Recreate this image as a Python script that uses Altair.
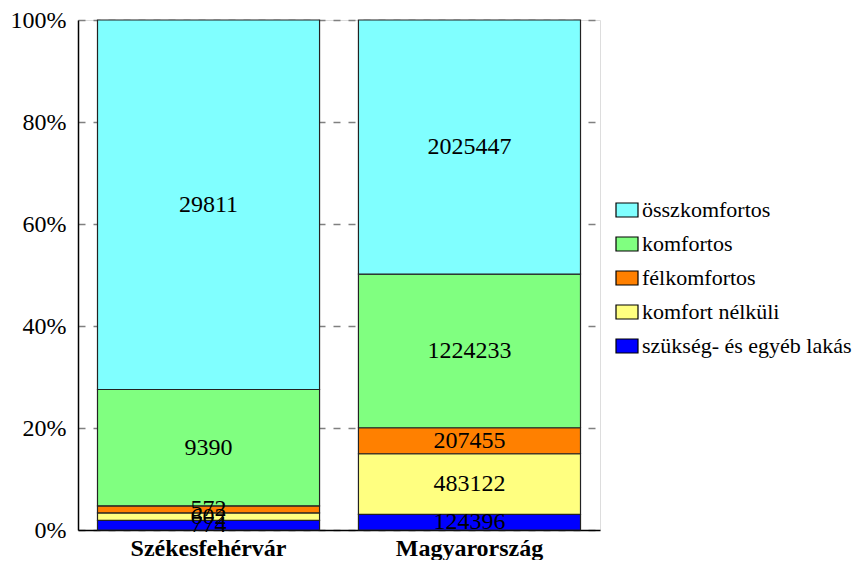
import altair as alt
import pandas as pd

cities = ["Székesfehérvár", "Magyarország"]
# bottom to top of the stack
categories = ["szükség- és egyéb lakás", "komfort nélküli", "félkomfortos", "komfortos", "összkomfortos"]
szekesfehervar = [774, 602, 572, 9390, 29811]
magyarorszag = [124396, 483122, 207455, 1224233, 2025447]
colors = ["#0000FF", "#FFFF80", "#FF8000", "#80FF80", "#80FFFF"]
y_ticks = [0, 0.2, 0.4, 0.6, 0.8, 1.0]

rows = []
for city, vals in zip(cities, [szekesfehervar, magyarorszag]):
    for i, (cat, v) in enumerate(zip(categories, vals)):
        rows.append({"city": city, "cat": cat, "value": v, "order": i})
df = pd.DataFrame(rows)

legend_order = categories[::-1]
legend_colors = colors[::-1]

FONT = "Liberation Serif"

base = alt.Chart(df).transform_joinaggregate(
    total="sum(value)", groupby=["city"]
).transform_calculate(
    frac="datum.value / datum.total"
).transform_stack(
    stack="frac", groupby=["city"], sort=[alt.SortField("order", order="ascending")], as_=["y0", "y1"]
).transform_calculate(
    ymid="(datum.y0 + datum.y1) / 2"
)

xenc = alt.X("city:N", sort=cities, title=None,
             scale=alt.Scale(paddingInner=0.149, paddingOuter=0.0747),
             axis=alt.Axis(labelAngle=0, labelFont=FONT, labelFontSize=24, labelFontWeight="bold",
                           labelColor="black", domainColor="black", domainWidth=1.5, ticks=False,
                           labelPadding=6, grid=False))

bars = base.mark_bar(stroke="#222222", strokeWidth=1.2, opacity=1).encode(
    x=xenc,
    y=alt.Y("y0:Q", scale=alt.Scale(domain=[0, 1], nice=False), title=None,
            axis=alt.Axis(values=y_ticks, format=".0%", labelFont=FONT, labelFontSize=24,
                          labelColor="black", domainColor="black", domainWidth=1.5, ticks=False,
                          labelPadding=12, grid=True, gridColor="#808080", gridDash=[7, 8],
                          gridWidth=1.5)),
    y2="y1:Q",
    color=alt.Color("cat:N", scale=alt.Scale(domain=legend_order, range=legend_colors),
                    legend=alt.Legend(title=None, orient="none", legendX=537, legendY=178,
                                      labelFont=FONT, labelFontSize=22, labelColor="black",
                                      labelLimit=400,
                                      symbolType="M-1,-0.636L1,-0.636L1,0.636L-1,0.636Z",
                                      symbolSize=484, symbolStrokeColor="black",
                                      symbolStrokeWidth=1.2, symbolOpacity=1,
                                      rowPadding=11, labelOffset=3, padding=0)),
)

labels = base.mark_text(font=FONT, fontSize=24, color="black", baseline="middle").encode(
    x=alt.X("city:N", sort=cities),
    y=alt.Y("ymid:Q"),
    text=alt.Text("value:Q", format="d"),
)

chart = (bars + labels).properties(
    width=522, height=510,
    padding={"left": 2, "top": 0, "right": 0, "bottom": 0},
).configure_view(stroke="black", strokeWidth=1.5).configure(background="white")

chart.save("out.html", embed_options={"renderer": "svg", "actions": False})
